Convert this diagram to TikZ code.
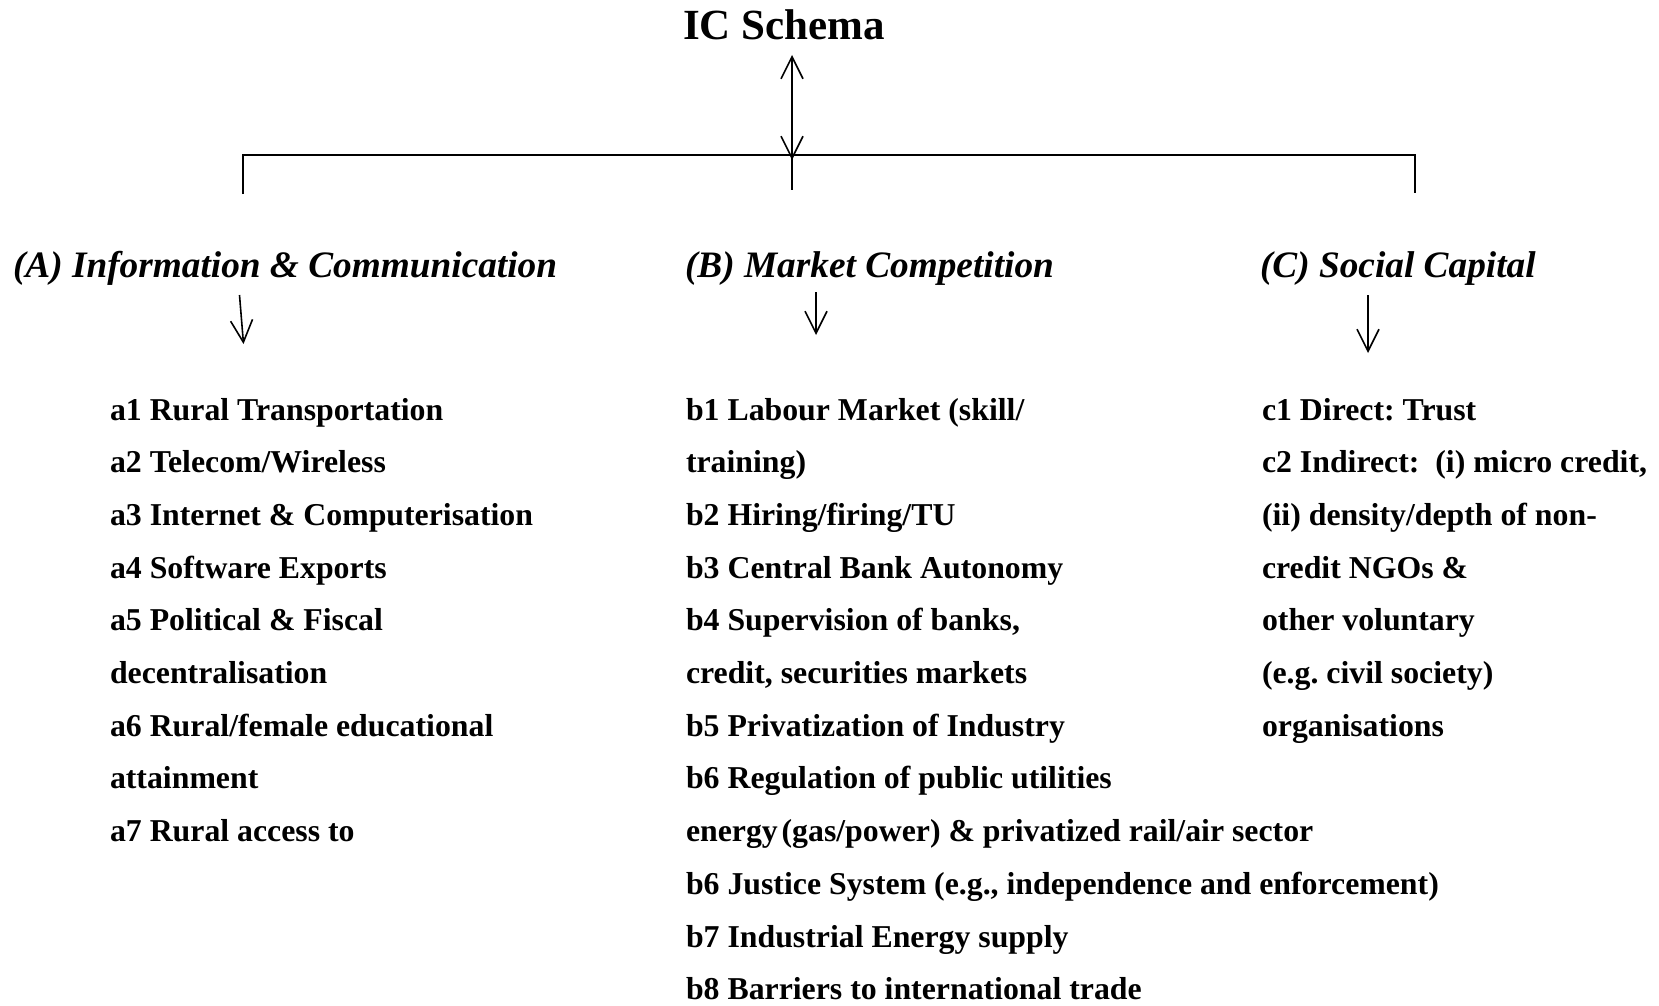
\documentclass[tikz,border=0pt]{standalone}
\usepackage{fontspec}
\setmainfont{Liberation Serif}
\usetikzlibrary{arrows.meta}
\frenchspacing
\begin{document}
\begin{tikzpicture}[x=1pt,y=-1pt,
  every node/.style={inner sep=0pt,outer sep=0pt},
  titletext/.style={anchor=base,font=\fontsize{43}{50}\selectfont\bfseries},
  headtext/.style={anchor=base west,font=\fontsize{37.3}{44}\selectfont\bfseries\itshape},
  itemtext/.style={anchor=base west,align=left,font=\fontsize{31.8}{52.7}\selectfont\bfseries},
  link/.style={line width=1.8pt},
  barb/.style={line width=1.6pt,-{Straight Barb[length=22pt,width=22pt]}},
  dbarb/.style={line width=1.6pt,{Straight Barb[length=22pt,width=22pt]}-{Straight Barb[length=22pt,width=22pt]}}]
\useasboundingbox (0,0) rectangle (1659,1006);

% title and the bar joining the three groups
\node[titletext] (title) at (784,40) {IC Schema};
\coordinate (ttop) at (792,55);
\coordinate (hub) at (792,155);
\coordinate (hubend) at (792,190);
\coordinate (lbar) at (243,155);
\coordinate (lfoot) at (243,194);
\coordinate (rbar) at (1415,155);
\coordinate (rfoot) at (1415,193);
\draw[dbarb] (ttop) -- ([yshift=-5pt]hub);
\draw[link] (lfoot) -- (lbar) -- (rbar) -- (rfoot);
\draw[link] (hub) -- (hubend);

% group headings
\node[headtext] (hA) at (13,277) {(A) Information \& Communication};
\node[headtext] (hB) at (685,277) {(B) Market Competition};
\node[headtext] (hC) at (1260,277) {(C) Social Capital};

\coordinate (aS) at (239.5,295);
\coordinate (aE) at (243.5,344);
\coordinate (bS) at (816,292);
\coordinate (bE) at (816,335);
\coordinate (cS) at (1368,295);
\coordinate (cE) at (1368,353);
\draw[barb] (aS) -- (aE);
\draw[barb] (bS) -- (bE);
\draw[barb] (cS) -- (cE);

% item lists (each node is placed by the baseline of its last line)
\node[itemtext] (listA) at (110,841.6) {a1 Rural Transportation\\
a2 Telecom/Wireless\\
a3 Internet \& Computerisation\\
a4 Software Exports\\
a5 Political \& Fiscal\\
decentralisation\\
a6 Rural/female educational\\
attainment\\
a7 Rural access to};

\node[itemtext] (listB) at (686,999.7) {b1 Labour Market (skill/\\
training)\\
b2 Hiring/firing/TU\\
b3 Central Bank Autonomy\\
b4 Supervision of banks,\\
credit, securities markets\\
b5 Privatization of Industry\\
b6 Regulation of public utilities\\
energy\kern0.12em(gas/power) \& privatized rail/air sector\\
b6 Justice System (e.g., independence and enforcement)\\
b7 Industrial Energy supply\\
b8 Barriers to international trade};

\node[itemtext] (listC) at (1262,736.2) {c1 Direct: Trust\\
c2 Indirect:\ \ (i) micro credit,\\
(ii) density/depth of non-\\
credit NGOs \&\\
other voluntary\\
(e.g. civil society)\\
organisations};
\end{tikzpicture}
\end{document}
